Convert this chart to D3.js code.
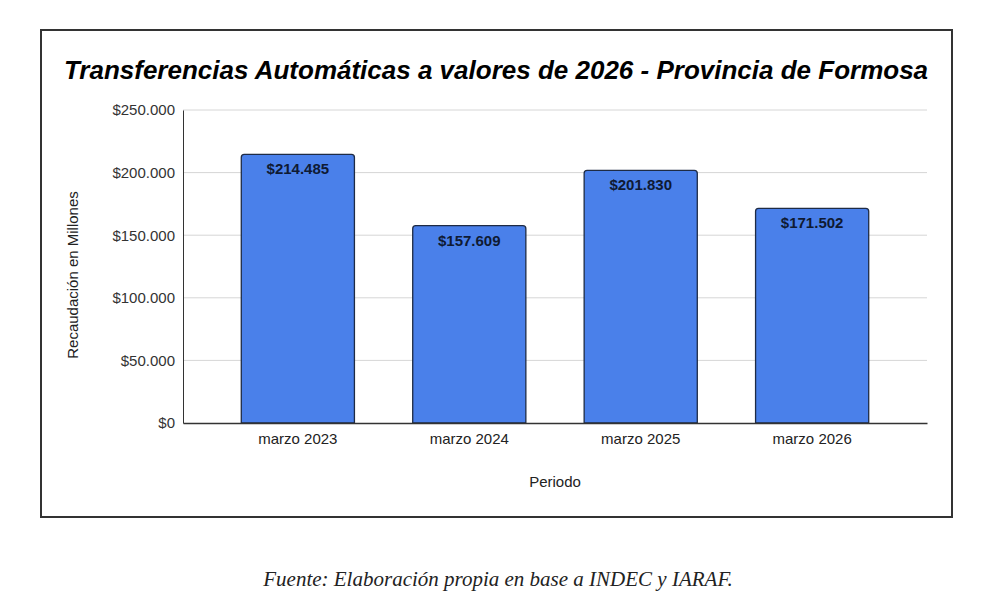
<!DOCTYPE html>
<html>
<head>
<meta charset="utf-8">
<style>
body { margin: 0; background: #fff; }
text { font-family: "Liberation Sans", Arial, sans-serif; }
</style>
<script src="https://d3js.org/d3.v7.min.js"></script>
</head>
<body>
<svg id="chart" width="997" height="611"></svg>
<script>
// datos
var periodos = ["marzo 2023", "marzo 2024", "marzo 2025", "marzo 2026"];
var recaudacion = [214485, 157609, 201830, 171502];
var yTicks = [0, 50000, 100000, 150000, 200000, 250000];

var titulo = "Transferencias Automáticas a valores de 2026 - Provincia de Formosa";
var tituloY = "Recaudación en Millones";
var tituloX = "Periodo";
var fuente = "Fuente: Elaboración propia en base a INDEC y IARAF.";

var locale = d3.formatLocale({decimal: ",", thousands: ".", grouping: [3], currency: ["$", ""]});
var fmt = locale.format("$,.0f");

var svg = d3.select("#chart");
var plotLeft = 183, plotRight = 927, plotTop = 110, plotBottom = 423;

// marco
svg.append("rect")
  .attr("x", 41).attr("y", 30)
  .attr("width", 911).attr("height", 487)
  .attr("fill", "#fff")
  .attr("stroke", "#333")
  .attr("stroke-width", 2);

svg.append("text")
  .attr("x", 496).attr("y", 79)
  .attr("text-anchor", "middle")
  .style("font-size", "26px")
  .style("font-weight", "bold")
  .style("font-style", "italic")
  .attr("fill", "#000")
  .text(titulo);

var x = d3.scaleBand()
  .domain(periodos)
  .range([plotLeft, plotRight])
  .padding(0.34);

var y = d3.scaleLinear()
  .domain([0, 250000])
  .range([plotBottom, plotTop]);

// grilla
svg.append("g")
  .selectAll("line")
  .data(yTicks.slice(1))
  .enter().append("line")
  .attr("x1", plotLeft).attr("x2", plotRight)
  .attr("y1", d => y(d)).attr("y2", d => y(d))
  .attr("stroke", "#d6d6d6")
  .attr("stroke-width", 1);

var yAxis = svg.append("g")
  .attr("transform", "translate(" + plotLeft + ",0)")
  .call(d3.axisLeft(y).tickValues(yTicks).tickFormat(fmt).tickSize(0).tickPadding(8));
yAxis.select(".domain").attr("stroke", "#333");
yAxis.selectAll("text").style("font-size", "15px").attr("fill", "#333");

var bars = svg.append("g");
periodos.forEach(function(p, i) {
  var v = recaudacion[i];
  bars.append("path")
    .attr("d", function() {
      var x0 = x(p), w = x.bandwidth(), y0 = y(v), y1 = y(0), r = 3;
      return "M" + x0 + "," + y1 +
        "V" + (y0 + r) +
        "Q" + x0 + "," + y0 + " " + (x0 + r) + "," + y0 +
        "H" + (x0 + w - r) +
        "Q" + (x0 + w) + "," + y0 + " " + (x0 + w) + "," + (y0 + r) +
        "V" + y1 + "Z";
    })
    .attr("fill", "#4a80ea")
    .attr("stroke", "#1e2b45")
    .attr("stroke-width", 1.3);
  bars.append("text")
    .attr("x", x(p) + x.bandwidth() / 2)
    .attr("y", y(v) + 20)
    .attr("text-anchor", "middle")
    .style("font-size", "15px")
    .style("font-weight", "bold")
    .attr("fill", "#0f1a33")
    .text(fmt(v));
});

var xAxis = svg.append("g")
  .attr("transform", "translate(0," + plotBottom + ")")
  .call(d3.axisBottom(x).tickSize(0).tickPadding(10));
xAxis.select(".domain").attr("stroke", "#333").attr("stroke-width", 1.3);
xAxis.selectAll("text").style("font-size", "15px").attr("fill", "#222");

svg.append("text")
  .attr("x", 555).attr("y", 487)
  .attr("text-anchor", "middle")
  .style("font-size", "15px")
  .attr("fill", "#222")
  .text(tituloX);

svg.append("text")
  .attr("transform", "translate(78,275) rotate(-90)")
  .attr("text-anchor", "middle")
  .style("font-size", "15px")
  .attr("fill", "#222")
  .text(tituloY);

svg.append("text")
  .attr("x", 498).attr("y", 586)
  .attr("text-anchor", "middle")
  .style("font-family", "'Liberation Serif', 'Times New Roman', serif")
  .style("font-style", "italic")
  .style("font-size", "21px")
  .attr("fill", "#222")
  .text(fuente);
</script>
</body>
</html>
